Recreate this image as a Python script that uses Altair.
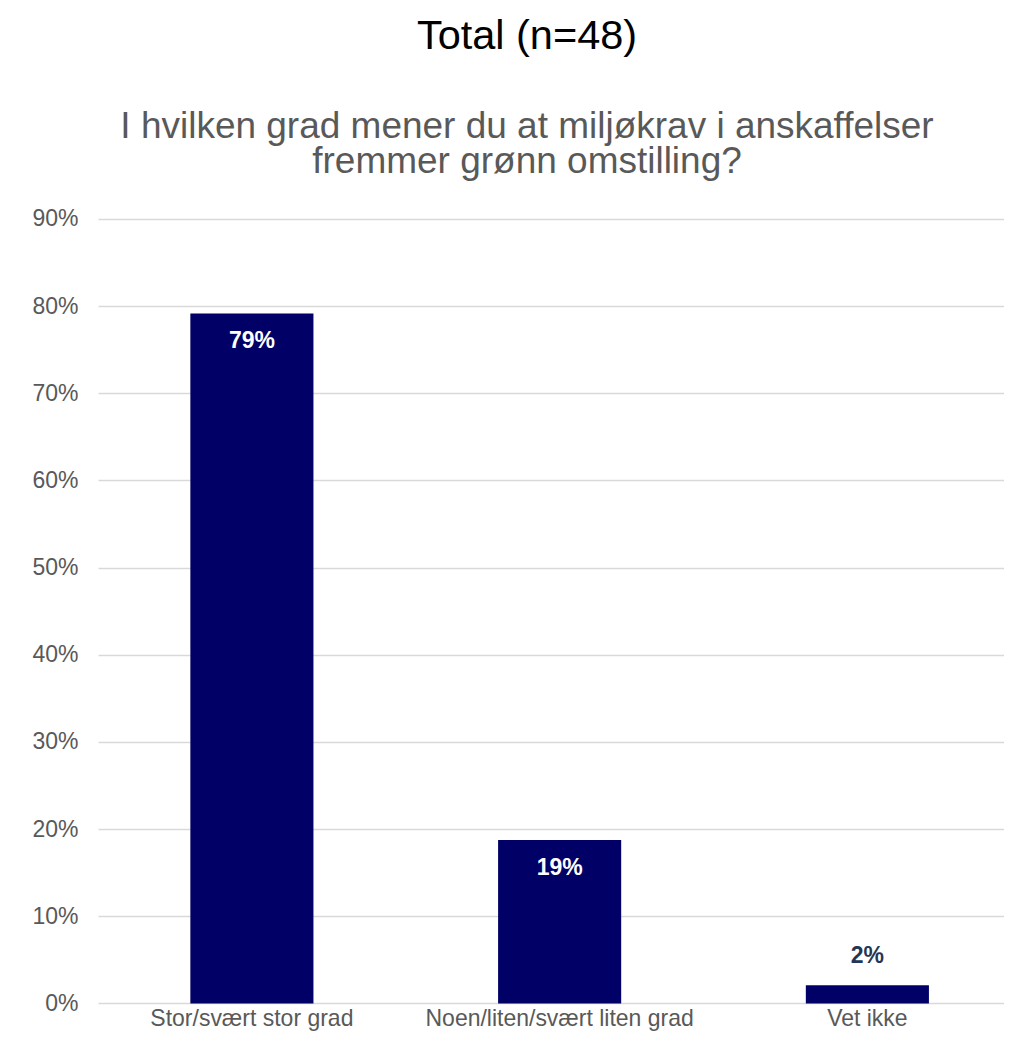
import altair as alt
import pandas as pd

categories = ["Stor/svært stor grad", "Noen/liten/svært liten grad", "Vet ikke"]
shares = [0.7917, 0.1875, 0.0208]
y_ticks = [0.0, 0.1, 0.2, 0.3, 0.4, 0.5, 0.6, 0.7, 0.8, 0.9]

title_text = "Total (n=48)"
subtitle_lines = [
    "I hvilken grad mener du at miljøkrav i anskaffelser",
    "fremmer grønn omstilling?",
]

df = pd.DataFrame({"kategori": categories, "andel": shares})

FONT = "Liberation Sans"

x = alt.X(
    "kategori:N",
    sort=categories,
    title=None,
    scale=alt.Scale(paddingInner=0.6, paddingOuter=0.272, align=0.5516),
    axis=alt.Axis(
        labelAngle=0,
        labelFontSize=23,
        labelColor="#595959",
        labelFont=FONT,
        labelLimit=0,
        ticks=False,
        domain=False,
        labelPadding=4,
        grid=False,
    ),
)
y = alt.Y(
    "andel:Q",
    title=None,
    scale=alt.Scale(domain=[0, 0.9], nice=False),
    axis=alt.Axis(
        values=y_ticks,
        format=".0%",
        labelFontSize=23,
        labelColor="#595959",
        labelFont=FONT,
        ticks=False,
        domain=False,
        labelPadding=20,
        gridColor="#d9d9d9",
        gridWidth=1.5,
    ),
)

base = alt.Chart(df).encode(x=x, y=y)

bars = base.mark_bar(color="#000066")

inside = (
    base.transform_filter("datum.andel >= 0.1")
    .mark_text(color="white", fontWeight="bold", fontSize=23, font=FONT,
               baseline="alphabetic", dy=35)
    .encode(text=alt.Text("andel:Q", format=".0%"))
)
outside = (
    base.transform_filter("datum.andel < 0.1")
    .mark_text(color="#243655", fontWeight="bold", fontSize=23, font=FONT,
               baseline="alphabetic", dy=-22)
    .encode(text=alt.Text("andel:Q", format=".0%"))
)

chart = (
    alt.layer(bars, inside, outside)
    .properties(
        width=906,
        height=784.4,
        autosize=alt.AutoSizeParams(type="none"),
        padding={"left": 90, "top": 211, "right": 0, "bottom": 32},
        title=alt.TitleParams(
            text=title_text,
            subtitle=subtitle_lines,
            fontSize=41.5,
            font=FONT,
            fontWeight="normal",
            color="black",
            subtitleFont=FONT,
            subtitleFontSize=37,
            subtitleColor="#595959",
            subtitleLineHeight=34.5,
            subtitlePadding=52,
            anchor="middle",
            dx=-24,
            offset=28,
        ),
    )
    .configure_view(stroke=None)
)

chart.save("out.html", embed_options={"renderer": "svg", "actions": False})
